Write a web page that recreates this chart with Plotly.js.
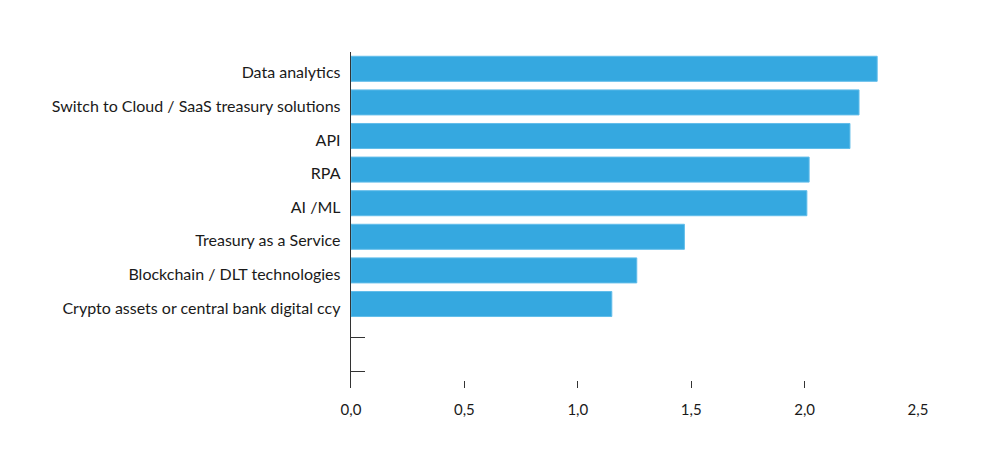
<!DOCTYPE html>
<html>
<head>
<meta charset="utf-8">
<script src="https://cdn.plot.ly/plotly-3.0.1.min.js"></script>
<style>html,body{margin:0;padding:0;background:#fff;}#chart{width:989px;height:464px;}</style>
</head>
<body>
<div id="chart"></div>
<script>
// Categories, top to bottom (last two are empty slots in the original chart)
const categories = [
  "Data analytics",
  "Switch to Cloud / SaaS treasury solutions",
  "API",
  "RPA",
  "AI /ML",
  "Treasury as a Service",
  "Blockchain / DLT technologies",
  "Crypto assets or central bank digital ccy",
  " ",
  "  "
];
const values = [2.32, 2.24, 2.20, 2.02, 2.01, 1.47, 1.26, 1.15, null, null];
const xTickValues = [0, 0.5, 1.0, 1.5, 2.0, 2.5];

const trace = {
  type: "bar",
  orientation: "h",
  y: categories,
  x: values,
  marker: {color: "#35a8e0", line: {color: "#62bdea", width: 1}},
  hoverinfo: "none"
};

const layout = {
  width: 989,
  height: 464,
  margin: {l: 350.5, r: 70.7, t: 52, b: 76, pad: 0},
  paper_bgcolor: "#ffffff",
  plot_bgcolor: "#ffffff",
  separators: ",.",
  showlegend: false,
  bargap: 0.255,
  font: {family: "Lato, 'Open Sans', sans-serif", size: 16, color: "#1a1a1a"},
  xaxis: {
    range: [0, 2.5],
    tickvals: xTickValues,
    tickformat: ".1f",
    ticks: "inside",
    ticklen: 7,
    tickwidth: 1.3,
    tickcolor: "#333",
    showline: false,
    showgrid: false,
    zeroline: false,
    layer: "below traces",
    ticklabelstandoff: 11,
    tickfont: {size: 15, color: "#1a1a1a"}
  },
  yaxis: {
    type: "category",
    categoryorder: "array",
    categoryarray: categories,
    autorange: "reversed",
    ticks: "inside",
    ticklen: 14,
    tickwidth: 1.3,
    tickcolor: "#333",
    showline: true,
    linecolor: "#333",
    linewidth: 1.3,
    showgrid: false,
    zeroline: false,
    layer: "below traces",
    ticklabelstandoff: 6,
    ticklabelshift: -4,
    tickfont: {size: 16, color: "#1a1a1a"}
  }
};

Plotly.newPlot("chart", [trace], layout, {displayModeBar: false, staticPlot: true});
</script>
</body>
</html>
